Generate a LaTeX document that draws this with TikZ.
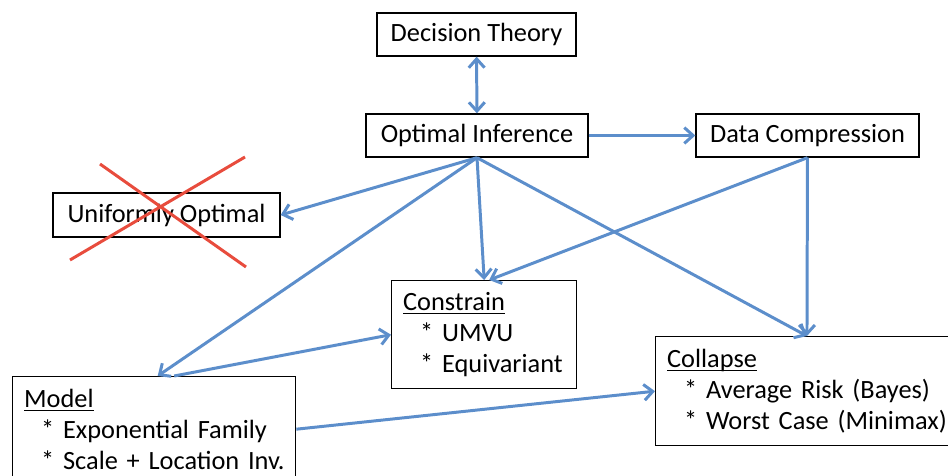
\documentclass[tikz,border=0pt]{standalone}
\usepackage{fontspec}
\setmainfont{Carlito}
\usetikzlibrary{arrows.meta,calc}
\definecolor{arrblue}{RGB}{92,142,203}
\definecolor{xred}{RGB}{232,76,61}
\newsavebox{\hdrbox}
\newcommand{\hdr}[1]{\sbox{\hdrbox}{#1}\rlap{\rule[-2pt]{\wd\hdrbox}{0.7pt}}\usebox{\hdrbox}}
\newcommand{\itm}[1]{\mbox{\hspace*{0.34cm}* #1}}
\tikzset{box/.style={draw, line width=0.8pt, font=\fontsize{15pt}{17.6pt}\selectfont, inner sep=0pt},
  lst/.style={box, anchor=north west, align=left, inner xsep=0.23cm},
  barb/.tip={Straight Barb[length=5pt,width=9pt]},
  arr/.style={draw=arrblue, line width=1.7pt, -barb}}

\begin{document}
\begin{tikzpicture}[x=0.02cm, y=-0.02cm]
\useasboundingbox (0,0) rectangle (948,476);
\node[box, minimum width=3.98cm, minimum height=0.86cm] (dec) at (476.5,34.5) {Decision Theory};
\node[box, minimum width=4.44cm, minimum height=0.86cm] (opt) at (477,135.5) {Optimal Inference};
\node[box, minimum width=4.46cm, minimum height=0.86cm] (comp) at (807.5,135.5) {Data Compression};
\node[box, minimum width=4.54cm, minimum height=0.88cm] (unif) at (166.5,215) {Uniformly Optimal};
\node[lst, text width=3.24cm, minimum height=2.16cm] (con) at (391,280) {\hdr{Constrain}\\\itm{UMVU}\\\itm{Equivariant}};
\node[lst, text width=5.94cm, minimum height=2.18cm] (col) at (655,336) {\hdr{Collapse}\\\itm{Average Risk (Bayes)}\\\itm{Worst Case (Minimax)}};
\node[lst, text width=5.2cm, minimum height=2.1cm] (mod) at (12,376) {\hdr{Model}\\\itm{Exponential Family}\\\itm{Scale + Location Inv.}};

\draw[arr, barb-barb] (dec) -- (opt);
\draw[arr] (opt) -- (comp);
\draw[arr] (opt.south) -- (unif.east);
\draw[arr] (opt.south) -- (con.north);
\draw[arr] (opt.south) -- ([xshift=0.07cm]mod.north);
\draw[arr] (opt.south) -- ([xshift=3.04cm]col.north west);
\draw[arr] (comp.south) -- ([xshift=0.1cm]con.north);
\draw[arr] (comp.south) -- ([xshift=3.04cm]col.north west);
\draw[arr] ([xshift=0.4cm]mod.north) -- (con.west);
\draw[arr] (mod.east) -- (col.west);

% crossed out
\draw[xred, line width=1.7pt] (100,164) -- (246,267) (245,157) -- (70,260);
\end{tikzpicture}
\end{document}
